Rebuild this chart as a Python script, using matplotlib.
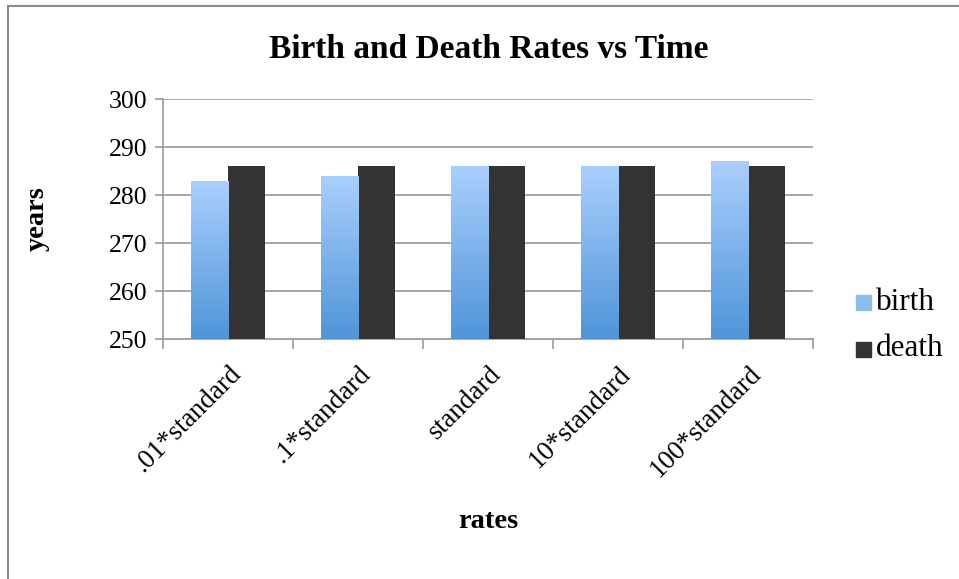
import numpy as np
import matplotlib.pyplot as plt
from matplotlib.patches import Rectangle
from matplotlib.colors import LinearSegmentedColormap
from matplotlib.transforms import ScaledTranslation

# valeurs lues pour chaque taux
categories = [".01*standard", ".1*standard", "standard", "10*standard", "100*standard"]
birth = [283, 284, 286, 286, 287]
death = [286, 286, 286, 286, 286]
y_ticks = [250, 260, 270, 280, 290, 300]

plt.rcParams['font.family'] = ['Liberation Serif', 'DejaVu Serif']

fig = plt.figure(figsize=(9.59, 5.79), dpi=100)
ax = fig.add_axes([163 / 959, 1 - 339 / 579, 650 / 959, 240 / 579])

x = np.arange(len(categories))
w = 0.288

# degrade bleu pour les barres "birth"
grad = np.linspace(0, 1, 256).reshape(-1, 1)
cmap_birth = LinearSegmentedColormap.from_list("birth", ["#4f95d9", "#aacffd"])

barres_b = ax.bar(x - w / 2, birth, w, color="#8bbcf0", zorder=3,
                  edgecolor="none")
for b in barres_b:
    x0, h = b.get_x(), b.get_height()
    im = ax.imshow(grad, cmap=cmap_birth, origin="lower", aspect="auto",
                   extent=[x0, x0 + w, 250, h], zorder=3.5)
    im.set_clip_path(b)

ax.bar(x + w / 2, death, w, color="#333333", zorder=3, edgecolor="none")

ax.set_xlim(-0.5, len(categories) - 0.5)
ax.set_ylim(250, 300)
ax.set_yticks(y_ticks)
ax.set_yticklabels([str(v) for v in y_ticks], fontsize=18.5)
ax.yaxis.grid(True, color="#a0a0a0", lw=1.3, zorder=0)

ax.set_xticks(x)
ax.set_xticklabels(categories, fontsize=19.5, rotation=45, ha="right",
                   rotation_mode="anchor", va="center")
ax.tick_params(axis="x", length=0, pad=16)
ax.set_xticks(np.arange(-0.5, len(categories)), minor=True)
ax.tick_params(axis="x", which="minor", length=7, color="#a0a0a0", width=1.3)
ax.tick_params(axis="y", length=6, color="#a0a0a0", width=1.3, pad=5)

# etiquettes inclinees un peu decalees vers la droite
decalage = ScaledTranslation(9 / 100, -9 / 100, fig.dpi_scale_trans)
for lab in ax.get_xticklabels():
    lab.set_transform(lab.get_transform() + decalage)

for s in ["top", "right"]:
    ax.spines[s].set_visible(False)
for s in ["left", "bottom"]:
    ax.spines[s].set_color("#a0a0a0")
    ax.spines[s].set_linewidth(1.3)

ax.set_xlabel("rates", fontsize=20.5, fontweight="bold")
ax.set_ylabel("years", fontsize=20.5, fontweight="bold")
ax.xaxis.set_label_coords(0.5, -0.71)
ax.yaxis.set_label_coords(-0.175, 0.5)

fig.text(0.51, 1 - 50 / 579, "Birth and Death Rates vs Time", ha="center",
         va="center", fontsize=24, fontweight="bold")

# legende a droite
fig.patches.append(Rectangle((856 / 959, 1 - 310 / 579), 15 / 959, 15 / 579,
                             transform=fig.transFigure, color="#8bbcf0"))
fig.patches.append(Rectangle((856 / 959, 1 - 357 / 579), 15 / 959, 15 / 579,
                             transform=fig.transFigure, color="#333333"))
fig.text(876 / 959, 1 - 302 / 579, "birth", fontsize=22.5, va="center")
fig.text(876 / 959, 1 - 349 / 579, "death", fontsize=22.5, va="center")

# cadre du graphique
fig.patches.append(Rectangle((8 / 959, -0.05), 1.2, 1 - 6 / 579 + 0.05,
                             transform=fig.transFigure, fill=False,
                             edgecolor="#8a8a8a", lw=1.5))

fig.savefig("out.png", dpi=100, facecolor="white")
